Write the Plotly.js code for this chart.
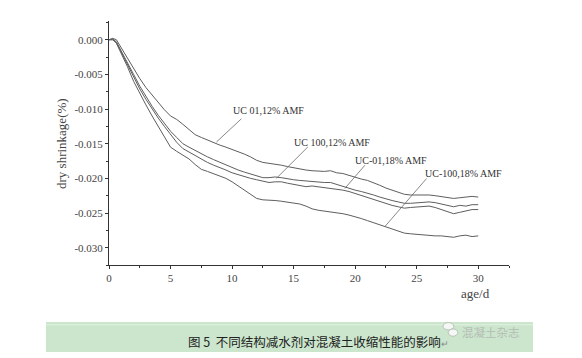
<!DOCTYPE html>
<html>
<head>
<meta charset="utf-8">
<script src="https://cdn.plot.ly/plotly-3.0.1.min.js"></script>
<style>html,body{margin:0;padding:0;background:#fff;}#chart{width:582px;height:358px;}</style>
</head>
<body>
<div id="chart"></div>
<script>
// age (days)
var age = [0,0.3,0.6,1,1.5,2,2.5,3,3.5,4,4.5,5,5.5,6,6.5,7,7.5,8,8.5,9,9.5,10,10.5,11,11.5,12,12.5,13,13.5,14,14.5,15,15.5,16,16.5,17,17.5,18,18.5,19,19.5,20,20.5,21,21.5,22,22.5,23,23.5,24,24.5,25,25.5,26,26.5,27,27.5,28,28.5,29,29.5,30];

var uc01_12 = [0.0000,0.0002,0.0000,-0.0012,-0.0026,-0.0041,-0.0056,-0.0069,-0.0080,-0.0091,-0.0101,-0.0110,-0.0115,-0.0122,-0.0130,-0.0137,-0.0141,-0.0145,-0.0149,-0.0152,-0.0155,-0.0158,-0.0161,-0.0165,-0.0169,-0.0174,-0.0177,-0.0178,-0.0180,-0.0181,-0.0183,-0.0185,-0.0186,-0.0188,-0.0189,-0.0190,-0.0190,-0.0189,-0.0192,-0.0193,-0.0196,-0.0198,-0.0201,-0.0203,-0.0206,-0.0210,-0.0214,-0.0217,-0.0220,-0.0223,-0.0224,-0.0224,-0.0223,-0.0224,-0.0225,-0.0226,-0.0227,-0.0229,-0.0228,-0.0227,-0.0226,-0.0227];

var uc100_12 = [0.0000,0.0001,-0.0003,-0.0016,-0.0033,-0.0050,-0.0067,-0.0082,-0.0096,-0.0109,-0.0121,-0.0132,-0.0141,-0.0150,-0.0155,-0.0160,-0.0165,-0.0169,-0.0173,-0.0177,-0.0181,-0.0185,-0.0188,-0.0191,-0.0194,-0.0197,-0.0199,-0.0199,-0.0198,-0.0199,-0.0201,-0.0202,-0.0203,-0.0204,-0.0204,-0.0205,-0.0206,-0.0206,-0.0209,-0.0211,-0.0214,-0.0217,-0.0219,-0.0221,-0.0224,-0.0227,-0.0230,-0.0232,-0.0234,-0.0236,-0.0236,-0.0235,-0.0234,-0.0234,-0.0235,-0.0237,-0.0239,-0.0241,-0.0239,-0.0240,-0.0238,-0.0238];

var uc01_18 = [0.0000,0.0000,-0.0004,-0.0018,-0.0036,-0.0055,-0.0071,-0.0086,-0.0100,-0.0113,-0.0125,-0.0137,-0.0148,-0.0157,-0.0162,-0.0168,-0.0173,-0.0177,-0.0181,-0.0184,-0.0188,-0.0192,-0.0195,-0.0198,-0.0200,-0.0202,-0.0204,-0.0206,-0.0205,-0.0205,-0.0207,-0.0209,-0.0210,-0.0212,-0.0211,-0.0212,-0.0214,-0.0215,-0.0216,-0.0217,-0.0219,-0.0222,-0.0225,-0.0228,-0.0231,-0.0234,-0.0237,-0.0239,-0.0241,-0.0243,-0.0242,-0.0241,-0.0241,-0.0240,-0.0242,-0.0245,-0.0248,-0.0251,-0.0249,-0.0247,-0.0245,-0.0245];

var uc100_18 = [0.0000,0.0000,-0.0005,-0.0020,-0.0039,-0.0060,-0.0078,-0.0094,-0.0110,-0.0125,-0.0141,-0.0155,-0.0161,-0.0166,-0.0172,-0.0180,-0.0187,-0.0190,-0.0193,-0.0196,-0.0200,-0.0205,-0.0211,-0.0217,-0.0224,-0.0229,-0.0231,-0.0231,-0.0232,-0.0233,-0.0234,-0.0235,-0.0237,-0.0240,-0.0244,-0.0246,-0.0247,-0.0248,-0.0249,-0.0251,-0.0253,-0.0255,-0.0258,-0.0261,-0.0264,-0.0267,-0.0270,-0.0273,-0.0276,-0.0279,-0.0280,-0.0281,-0.0282,-0.0282,-0.0283,-0.0283,-0.0284,-0.0285,-0.0283,-0.0282,-0.0284,-0.0283];

var seriesNames = ['UC 01,12% AMF','UC 100,12% AMF','UC-01,18% AMF','UC-100,18% AMF'];
var seriesValues = [uc01_12, uc100_12, uc01_18, uc100_18];

var yTickVals = [0,-0.005,-0.010,-0.015,-0.020,-0.025,-0.030];
var yTickText = ['0.000','-0.005','-0.010','-0.015','-0.020','-0.025','-0.030'];
var xTickVals = [0,5,10,15,20,25,30];
var xTickText = ['0','5','10','15','20','25','30'];

// label anchor points: [curve point x,y , text x,y]
var labelLines = [
  [8.73,-0.01476,10.76,-0.0114],
  [13.6,-0.0200,16.15,-0.01548],
  [19.16,-0.02146,20.79,-0.01811],
  [22.4,-0.02698,25.8,-0.02003]
];
var labelText = [[9.9,-0.0102],[14.9,-0.01476],[19.8,-0.0174],[25.5,-0.0193]];

var lineColor = '#5e5e5e';
var traces = seriesValues.map(function(v,i){
  return {x: age, y: v, type:'scatter', mode:'lines', name: seriesNames[i],
    line:{color: lineColor, width:1}, hoverinfo:'skip'};
});

var serif = '"Liberation Serif", "DejaVu Serif", serif';
var shapes = labelLines.map(function(p){
  return {type:'line', xref:'x', yref:'y', x0:p[0], y0:p[1], x1:p[2], y1:p[3],
    line:{color:'#6a6a6a', width:0.8}};
});
shapes.push({type:'rect', xref:'paper', yref:'paper', x0:-0.1575, x1:1.06, y0:-0.3566, y1:-0.2336,
  fillcolor:'#cbe6cc', line:{width:0}, layer:'below'});
shapes.push({type:'line', xref:'paper', yref:'paper', x0:-0.1575, x1:1.06, y0:-0.245, y1:-0.245,
  line:{color:'#e2f1e2', width:1}});
// wechat-like icon bubbles
shapes.push({type:'circle', xref:'paper', yref:'paper', x0:0.835, x1:0.862, y0:-0.266, y1:-0.236,
  fillcolor:'#f4f7f4', line:{color:'#b0b8b0', width:0.8}});
shapes.push({type:'circle', xref:'paper', yref:'paper', x0:0.848, x1:0.872, y0:-0.292, y1:-0.262,
  fillcolor:'#f4f7f4', line:{color:'#b0b8b0', width:0.8}});

var annotations = labelText.map(function(p,i){
  return {x:p[0], y:p[1], xref:'x', yref:'y', text: seriesNames[i], showarrow:false,
    xanchor:'left', yanchor:'middle', font:{family:serif, size:10, color:'#333'}};
});
annotations.push({x:-0.1175, y:0.496, xref:'paper', yref:'paper', text:'dry shrinkage(%)', textangle:-90,
  showarrow:false, xanchor:'center', yanchor:'middle', font:{family:serif, size:13, color:'#444'}});
annotations.push({x:0.915, y:-0.115, xref:'paper', yref:'paper', text:'age/d',
  showarrow:false, xanchor:'center', yanchor:'middle', font:{family:serif, size:13, color:'#444'}});
annotations.push({x:0.523, y:-0.315, xref:'paper', yref:'paper', text:'图 5  不同结构减水剂对混凝土收缩性能的影响<span style="color:#888;font-size:9px">↵</span>',
  showarrow:false, xanchor:'center', yanchor:'middle', font:{family:'"Noto Sans CJK SC", sans-serif', size:12.5, color:'#222'}});
annotations.push({x:0.877, y:-0.273, xref:'paper', yref:'paper', text:'混凝土杂志',
  showarrow:false, xanchor:'left', yanchor:'middle', font:{family:'"Noto Sans CJK SC", sans-serif', size:11.5, color:'#b5bdb5'}});

var axisCommon = {showgrid:false, zeroline:false, showline:true, linecolor:'#333', linewidth:1,
  ticks:'outside', ticklen:3, tickwidth:1, tickcolor:'#333', tickmode:'array',
  tickfont:{family:serif, size:11, color:'#444'}};

var layout = {
  width:582, height:358,
  margin:{l:109, r:73, t:21, b:93, pad:0},
  paper_bgcolor:'#fff', plot_bgcolor:'#fff',
  showlegend:false,
  xaxis: Object.assign({}, axisCommon, {range:[0,32.5], tickvals:xTickVals, ticktext:xTickText,
    minor:{dtick:2.5, tick0:0, ticks:'outside', ticklen:2, tickcolor:'#333', showgrid:false}}),
  yaxis: Object.assign({}, axisCommon, {range:[-0.0325,0.0027], tickvals:yTickVals, ticktext:yTickText,
    minor:{dtick:0.0025, tick0:0, ticks:'outside', ticklen:2, tickcolor:'#333', showgrid:false}}),
  shapes: shapes,
  annotations: annotations
};

Plotly.newPlot('chart', traces, layout, {displayModeBar:false, staticPlot:true});
</script>
</body>
</html>
